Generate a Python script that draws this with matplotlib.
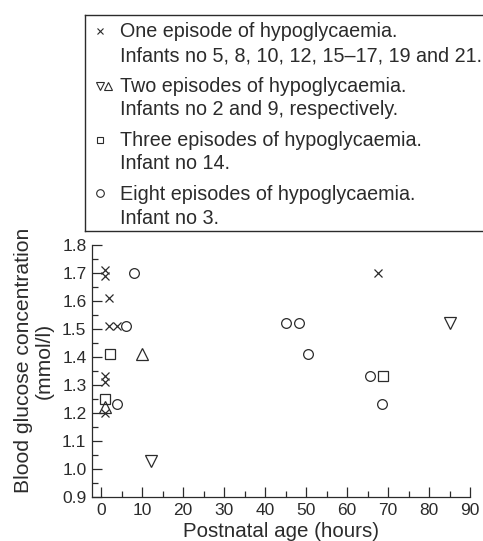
import matplotlib.pyplot as plt
from matplotlib.ticker import MultipleLocator

plt.rcParams['font.family'] = ['Liberation Sans', 'DejaVu Sans']

# one episode (x)
one_x = [1.0, 1.0, 1.9, 1.9, 3.9, 1.0, 1.0, 1.0, 67.5]
one_y = [1.71, 1.69, 1.61, 1.51, 1.51, 1.33, 1.31, 1.20, 1.70]
# two episodes: infant 2 (down triangle), infant 9 (up triangle)
down_x = [12.3, 85.2]
down_y = [1.03, 1.52]
up_x = [1.0, 10.1]
up_y = [1.22, 1.41]
# three episodes (square)
three_x = [2.3, 1.0, 68.7]
three_y = [1.41, 1.25, 1.33]
# eight episodes (circle)
eight_x = [8.1, 6.2, 3.9, 45.2, 48.2, 50.6, 65.7, 68.5]
eight_y = [1.70, 1.51, 1.23, 1.52, 1.52, 1.41, 1.33, 1.23]

legend_lines = [
    ("One episode of hypoglycaemia.", "Infants no 5, 8, 10, 12, 15\u201317, 19 and 21."),
    ("Two episodes of hypoglycaemia.", "Infants no 2 and 9, respectively."),
    ("Three episodes of hypoglycaemia.", "Infant no 14."),
    ("Eight episodes of hypoglycaemia.", "Infant no 3."),
]

ink = "#2b2b2b"
W, H = 483, 541
fig = plt.figure(figsize=(W / 100, H / 100), dpi=100)
ax = fig.add_axes([92 / W, 1 - 497 / H, (470 - 92) / W, (497 - 244.7) / H])

mk = dict(linestyle="none", color=ink, markerfacecolor="none", markeredgewidth=0.9)
ax.plot(one_x, one_y, marker="x", markersize=6, **mk)
ax.plot(down_x, down_y, marker="v", markersize=8, **mk)
ax.plot(up_x, up_y, marker="^", markersize=8, **mk)
ax.plot(three_x, three_y, marker="s", markersize=6.5, **mk)
ax.plot(eight_x, eight_y, marker="o", markersize=7, **mk)

ax.set_xlim(-2.2, 90)
ax.set_ylim(0.9, 1.8)
ax.xaxis.set_major_locator(MultipleLocator(10))
ax.xaxis.set_minor_locator(MultipleLocator(5))
ax.yaxis.set_major_locator(MultipleLocator(0.1))
ax.yaxis.set_minor_locator(MultipleLocator(0.05))
ax.tick_params(which="both", direction="in", color=ink, labelcolor=ink, labelsize=12.5, width=0.9)
ax.tick_params(which="major", length=7)
ax.tick_params(which="minor", length=4)
ax.tick_params(axis="y", pad=4)
ax.tick_params(axis="x", pad=4)
ax.yaxis.set_major_formatter(plt.FuncFormatter(lambda v, p: f"{v:.1f}"))
for s in ["top", "right"]:
    ax.spines[s].set_visible(False)
for s in ["left", "bottom"]:
    ax.spines[s].set_color(ink)
    ax.spines[s].set_linewidth(0.9)
ax.set_xlabel("Postnatal age (hours)", fontsize=14.8, color=ink, labelpad=3)
ax.set_ylabel("Blood glucose concentration\n(mmol/l)", fontsize=15.2, color=ink,
              linespacing=1.12)
ax.yaxis.set_label_coords(-0.1, 0.54)

# legend box
lax = fig.add_axes([85 / W, 1 - 231 / H, (W + 20 - 85) / W, (231 - 15) / H])
lax.set_xlim(85, W + 20)
lax.set_ylim(231, 15)
lax.set_xticks([])
lax.set_yticks([])
for s in lax.spines.values():
    s.set_color(ink)
    s.set_linewidth(1.0)
lax.patch.set_alpha(0)

baselines = [(37, 61), (92, 115), (146, 169), (200, 224)]
marker_y = [30.5, 86, 139.5, 193]
lm = dict(color=ink, markerfacecolor="none", markeredgewidth=0.8, linestyle="none")
lax.plot([100], [marker_y[0]], marker="x", markersize=5, **lm)
lax.plot([100], [marker_y[1]], marker="v", markersize=5.5, **lm)
lax.plot([108], [marker_y[1]], marker="^", markersize=5.5, **lm)
lax.plot([100], [marker_y[2]], marker="s", markersize=5, **lm)
lax.plot([100], [marker_y[3]], marker="o", markersize=5.5, **lm)
for (b1, b2), (t1, t2) in zip(baselines, legend_lines):
    lax.text(120.5, b1, t1, fontsize=14.2, color=ink, va="baseline", ha="left")
    lax.text(120.5, b2, t2, fontsize=14.2, color=ink, va="baseline", ha="left")

fig.savefig("out.png", dpi=100)
